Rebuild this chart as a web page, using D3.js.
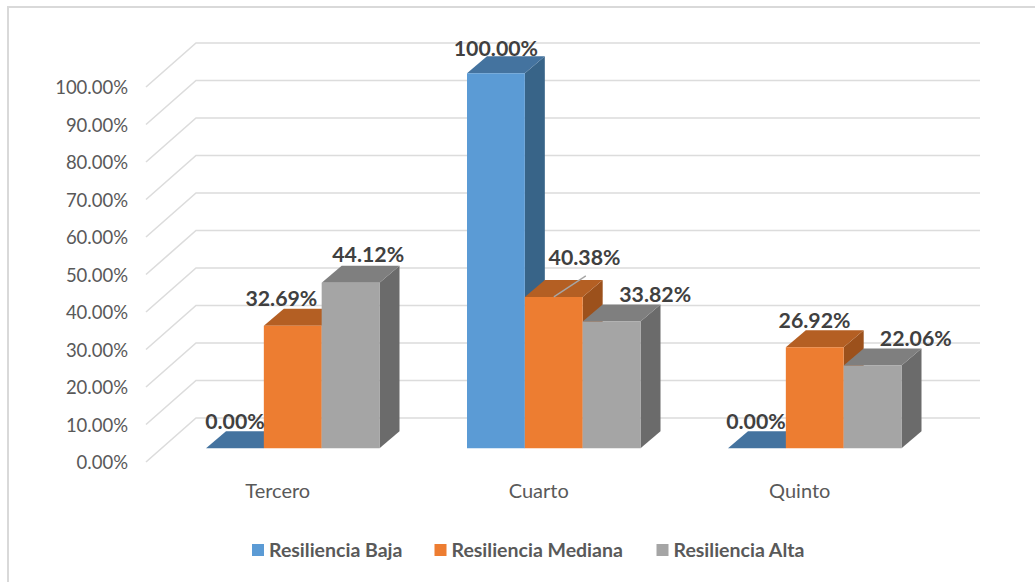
<!DOCTYPE html>
<html>
<head>
<meta charset="utf-8">
<style>
  html, body { margin: 0; padding: 0; background: #fff; }
  svg { display: block; }
  text { font-family: Lato, "Open Sans", sans-serif; }
</style>
<script src="https://cdn.jsdelivr.net/npm/d3@7"></script>
</head>
<body>
<svg id="chart" width="1035" height="582"></svg>
<script>
const categories = ["Tercero", "Cuarto", "Quinto"];
const seriesNames = ["Resiliencia Baja", "Resiliencia Mediana", "Resiliencia Alta"];
const resilienciaBaja = [0, 100, 0];
const resilienciaMediana = [32.69, 40.38, 26.92];
const resilienciaAlta = [44.12, 33.82, 22.06];
const tickValues = [0, 10, 20, 30, 40, 50, 60, 70, 80, 90, 100];
const seriesValues = [resilienciaBaja, resilienciaMediana, resilienciaAlta];

// Face shades per series: front, top, side
const faces = [
  { front: "#5b9bd5", top: "#44739f", side: "#386488" },
  { front: "#ed7d31", top: "#b45f23", side: "#9c511c" },
  { front: "#a5a5a5", top: "#7f7f7f", side: "#6b6b6b" }
];

const svg = d3.select("#chart");
const fmt = v => v.toFixed(2) + "%";

// Front-plane value scale for the bars; the wall sits behind it
const y = d3.scaleLinear().domain([0, 100]).range([448.3, 73.3]);
const wallY = d3.scaleLinear().domain([0, 100]).range([418, 43]);
const groupX = d3.scaleBand().domain(categories).range([162.5, 945.5]);
const barX = d3.scaleBand().domain(d3.range(3)).range([43.5, 217]);

// Chart frame: top and left rules only, running off the page edge
svg.append("path")
  .attr("d", d3.line()([[8, 582], [8, 7], [1035, 7]]))
  .attr("fill", "none").attr("stroke", "#d9d9d9").attr("stroke-width", 2);

// Wall gridlines with the floor return toward the axis
const wallLeft = 196, wallRight = 980, floorDx = 50, floorDy = 44;
svg.append("g").selectAll("path").data(tickValues).join("path")
  .attr("d", t => d3.line()([
    [wallLeft - floorDx, wallY(t) + floorDy],
    [wallLeft, wallY(t)],
    [wallRight, wallY(t)]
  ]))
  .attr("fill", "none").attr("stroke", "#dcdcdc").attr("stroke-width", 1.6);

// Value axis labels
svg.append("g").selectAll("text").data(tickValues).join("text")
  .attr("x", 128).attr("y", t => wallY(t) + floorDy + 0.8)
  .attr("dy", "0.35em").attr("text-anchor", "end")
  .attr("font-size", 18.5).attr("fill", "#595959")
  .text(fmt);

// Extruded bars, painted left to right so each front hides its neighbour's side
const depthX = 20, depthY = 17;
const bars = [];
categories.forEach((cat, c) => {
  seriesValues.forEach((vals, s) => {
    bars.push({ cat, c, s, value: vals[c] });
  });
});
const g = svg.append("g");
const poly = (pts, fill) => g.append("polygon")
  .attr("points", pts.map(p => p.join(",")).join(" ")).attr("fill", fill);
bars.forEach(d => {
  const x0 = groupX(d.cat) + barX(d.s);
  const x1 = x0 + barX.bandwidth();
  const top = y(d.value), base = y(0);
  if (d.value > 0) poly([[x1, top], [x1 + depthX, top - depthY], [x1 + depthX, base - depthY], [x1, base]], faces[d.s].side);
  poly([[x0, top], [x0 + depthX, top - depthY], [x1 + depthX, top - depthY], [x1, top]], faces[d.s].top);
  if (d.value > 0) poly([[x0, top], [x1, top], [x1, base], [x0, base]], faces[d.s].front);
});

// Category labels
svg.append("g").selectAll("text").data(categories).join("text")
  .attr("x", c => groupX(c) + barX(1) + barX.bandwidth() / 2 - 15)
  .attr("y", 498).attr("text-anchor", "middle")
  .attr("font-size", 20).attr("fill", "#595959")
  .text(c => c);

// Leader line joining the Cuarto median bar to its label
const leaderX = groupX("Cuarto") + barX(1) + 29;
svg.append("line")
  .attr("x1", leaderX).attr("y1", y(resilienciaMediana[1]))
  .attr("x2", leaderX + 32).attr("y2", y(resilienciaMediana[1]) - 21)
  .attr("stroke", "#a6a6a6").attr("stroke-width", 1.4);

// Data label nudges from each bar's centre, by category then series
const labelNudgeX = [[0, -11.4, 17.6], [0, 30.8, 43.6], [-1, -0.2, 43.2]];
const labelNudgeY = [[-19, -19.4, -20.6], [-17, -31.6, -19], [-19, -19, -19.6]];
svg.append("g").selectAll("text").data(bars).join("text")
  .attr("x", d => groupX(d.cat) + barX(d.s) + barX.bandwidth() / 2 + labelNudgeX[d.c][d.s])
  .attr("y", d => y(d.value) + labelNudgeY[d.c][d.s])
  .attr("text-anchor", "middle")
  .attr("font-size", 21.3).attr("font-weight", 700).attr("fill", "#404040")
  .text(d => fmt(d.value));

// Legend
const legendX = [252, 434.5, 656.5];
const legend = svg.append("g").selectAll("g").data(seriesNames).join("g")
  .attr("transform", (d, i) => `translate(${legendX[i]},544)`);
legend.append("rect").attr("width", 12).attr("height", 12)
  .attr("fill", (d, i) => faces[i].front);
legend.append("text").attr("x", 17).attr("y", 12.5)
  .attr("font-size", 19.5).attr("font-weight", 700).attr("fill", "#595959")
  .text(d => d);
</script>
</body>
</html>
